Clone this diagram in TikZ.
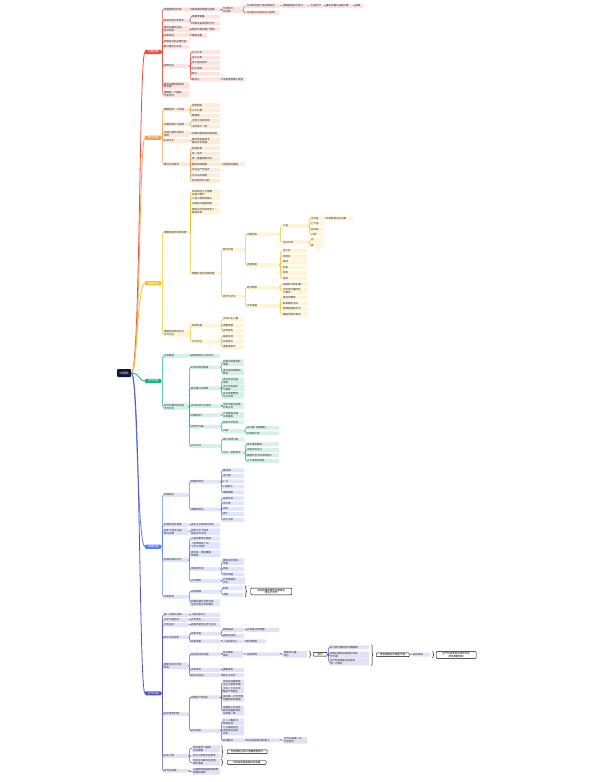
\documentclass[tikz,border=0pt]{standalone}
\usepackage{fontspec}
\newfontfamily\cjk{Noto Sans CJK SC}
\usetikzlibrary{decorations.pathreplacing}
\definecolor{rootC}{RGB}{16,22,58}
\definecolor{redD}{RGB}{240,75,65}
\definecolor{redL}{RGB}{253,226,224}
\definecolor{orD}{RGB}{246,158,78}
\definecolor{orL}{RGB}{253,235,218}
\definecolor{yeD}{RGB}{246,196,30}
\definecolor{yeL}{RGB}{255,245,214}
\definecolor{grD}{RGB}{22,180,126}
\definecolor{grL}{RGB}{214,242,231}
\definecolor{blD}{RGB}{92,125,248}
\definecolor{blL}{RGB}{222,229,253}
\definecolor{puD}{RGB}{86,82,197}
\definecolor{puL}{RGB}{226,225,246}
\newcommand\mnd[6]{\pgfmathsetmacro\tw{#5-1.6}\node[nd,#1,text width=\tw pt] (#2) at (#3,#4) {#6};}
\newcommand\mcn[3]{\foreach \ch in {#3}{\draw[#1] (#2.east) -- ++(1.2,0) |- (\ch.west);}}
\tikzset{
 nd/.style={font=\cjk\fontsize{2.5pt}{2.8pt}\selectfont, inner xsep=0.8pt, inner ysep=0.75pt, rounded corners=0.5pt, anchor=west, align=left, text=black!85},
 sec/.style={font=\cjk\fontsize{2.6pt}{3pt}\selectfont, text=white, inner xsep=0.8pt, inner ysep=0.85pt, rounded corners=0.8pt, anchor=west, text width=14.4pt, align=center},
 sm/.style={fill=white, draw=black, line width=0.45pt, align=center, rounded corners=0.8pt, text=black},
 brc/.style={decorate, decoration={brace, amplitude=1.3pt}, draw=black, line width=0.45pt},
 cl/.style={line width=0.5pt, rounded corners=1pt},
 rl/.style={line width=0.8pt},
 rF/.style={fill=redL}, rC/.style={cl, draw=redD},
 oF/.style={fill=orL}, oC/.style={cl, draw=orD},
 yF/.style={fill=yeL}, yC/.style={cl, draw=yeD},
 gF/.style={fill=grL}, gC/.style={cl, draw=grD},
 bF/.style={fill=blL}, bC/.style={cl, draw=blD},
 pF/.style={fill=puL}, pC/.style={cl, draw=puD}
}
\begin{document}
\begin{tikzpicture}[x=1pt,y=-1pt]
\fill[white] (0,0) rectangle (589,782);
\useasboundingbox (0,0) rectangle (589,782);
% root
\node[font=\cjk\fontsize{3pt}{3.4pt}\selectfont, text=white, fill=rootC, rounded corners=1pt, minimum width=14pt, minimum height=8pt, inner sep=0.5pt, anchor=west] (root) at (117,373) {中国史};
% sections
\node[sec, fill=redD] (R) at (145,52) {先秦时期};
\node[sec, fill=orD] (O) at (145,137.7) {秦汉时期};
\node[sec, fill=yeD] (Y) at (145,283.3) {隋唐时期};
\node[sec, fill=grD] (G) at (145,381) {宋元时期};
\node[sec, fill=blD] (B) at (145,546.7) {明清时期};
\node[sec, fill=puD] (P) at (145,693.3) {近代中国};
\draw[rl, draw=redD] (root.east) .. controls +(9,0) and +(-6,0) .. (R.west);
\draw[rl, draw=orD] (root.east) .. controls +(9,0) and +(-6,0) .. (O.west);
\draw[rl, draw=yeD] (root.east) .. controls +(6,0) and +(-8,0) .. (Y.west);
\draw[rl, draw=grD] (root.east) .. controls +(8,0) and +(-6,0) .. (G.west);
\draw[rl, draw=blD] (root.east) .. controls +(6,0) and +(-8,0) .. (B.west);
\draw[rl, draw=puD] (root.east) .. controls +(9,0) and +(-6,0) .. (P.west);
% ================= RED
\mnd{rF}{R1}{163}{9.3}{26}{早期国家的形成}
\mnd{rF}{R1a}{191}{9.3}{29}{夏商周的更替与发展}
\mnd{rF}{R1a1}{222}{10}{20}{分封制与\\宗法制}
\mnd{rF}{R1a1a}{246}{6}{33}{分封制巩固了周王朝统治}
\mnd{rF}{R1a1a1}{282}{6}{25}{诸侯拥有较大权力}
\mnd{rF}{R1a1a1a}{310}{6}{13}{礼崩乐坏}
\mnd{rF}{R1a1a1a1}{325}{6}{27}{春秋五霸与战国七雄}
\mnd{rF}{R1a1a1a1a}{354}{6}{9}{争霸}
\mnd{rF}{R1a1b}{246}{12.7}{33}{宗法制以血缘关系为纽带}
\mnd{rF}{R2}{163}{20.7}{26}{青铜文明与甲骨文}
\mnd{rF}{R2a}{191}{16.7}{29}{商朝青铜器}
\mnd{rF}{R2b}{191}{23.3}{29}{甲骨文是成熟的汉字}
\mnd{rF}{R3}{163}{29}{26}{春秋战国的社会\\经济变革}
\mnd{rF}{R3a}{191}{29.3}{29}{铁犁牛耕的推广使用}
\mnd{rF}{R4}{163}{35.3}{26}{百家争鸣}
\mnd{rF}{R4a}{191}{35.3}{16}{儒道法墨}
\mnd{rF}{R5}{163}{41.7}{26}{商鞅变法的主要内容}
\mnd{rF}{R6}{163}{46.7}{26}{都江堰水利工程}
\mnd{rF}{R7}{163}{66}{26}{思想文化}
\mnd{rF}{R7a}{191}{52.3}{29}{孔子仁学}
\mnd{rF}{R7b}{191}{57.7}{29}{孟子仁政}
\mnd{rF}{R7c}{191}{63}{29}{老子道法自然}
\mnd{rF}{R7d}{191}{68.3}{29}{庄子逍遥}
\mnd{rF}{R7e}{191}{73.7}{29}{荀子}
\mnd{rF}{R7f}{191}{79.3}{29}{韩非子}
\mnd{rF}{R7f1}{222}{79.3}{23}{法家思想集大成者}
\mnd{rF}{R8}{163}{85.5}{26}{春秋战国时期的民\\族交融}
\mnd{rF}{R9}{163}{94}{26}{秦国统一六国的\\历史条件}
\mcn{rC}{R}{R1,R2,R3,R4,R5,R6,R7,R8,R9}
\mcn{rC}{R1}{R1a}
\mcn{rC}{R1a}{R1a1}
\mcn{rC}{R1a1}{R1a1a,R1a1b}
\mcn{rC}{R1a1a}{R1a1a1}
\mcn{rC}{R1a1a1}{R1a1a1a}
\mcn{rC}{R1a1a1a}{R1a1a1a1}
\mcn{rC}{R1a1a1a1}{R1a1a1a1a}
\mcn{rC}{R2}{R2a,R2b}
\mcn{rC}{R3}{R3a}
\mcn{rC}{R4}{R4a}
\mcn{rC}{R7}{R7a,R7b,R7c,R7d,R7e,R7f}
\mcn{rC}{R7f}{R7f1}
% ================= ORANGE
\mnd{oF}{O1}{163}{109.7}{26}{秦朝的统一与巩固}
\mnd{oF}{O1a}{191}{105.3}{29}{皇帝制度}
\mnd{oF}{O1b}{191}{110.3}{29}{三公九卿}
\mnd{oF}{O1c}{191}{115.7}{29}{郡县制}
\mnd{oF}{O2}{163}{124.3}{26}{汉朝的建立与发展}
\mnd{oF}{O2a}{191}{121}{29}{文景之治的出现}
\mnd{oF}{O2b}{191}{126.3}{29}{汉武帝大一统}
\mnd{oF}{O3}{163}{133.7}{26}{丝绸之路的开辟与\\发展}
\mnd{oF}{O3a}{191}{133.7}{29}{张骞出使西域开辟丝路}
\mnd{oF}{O4}{163}{141}{26}{科技文化}
\mnd{oF}{O4a}{191}{141}{29}{蔡伦改进造纸术\\推动文化传播}
\mnd{oF}{O5}{163}{164.3}{26}{秦汉社会经济}
\mnd{oF}{O5a}{191}{148.3}{29}{盐铁官营}
\mnd{oF}{O5b}{191}{153.7}{29}{统一货币}
\mnd{oF}{O5c}{191}{159}{29}{统一度量衡和文字}
\mnd{oF}{O5d}{191}{164.3}{29}{重农抑商政策}
\mnd{oF}{O5d1}{222}{164.3}{23}{巩固统治基础}
\mnd{oF}{O5e}{191}{170}{29}{农业生产的进步}
\mnd{oF}{O5f}{191}{175.3}{29}{手工业的发展}
\mnd{oF}{O5g}{191}{181}{29}{商业城市的兴起}
\mcn{oC}{O}{O1,O2,O3,O4,O5}
\mcn{oC}{O1}{O1a,O1b,O1c}
\mcn{oC}{O2}{O2a,O2b}
\mcn{oC}{O3}{O3a}
\mcn{oC}{O4}{O4a}
\mcn{oC}{O5}{O5a,O5b,O5c,O5d,O5e,O5f,O5g}
\mcn{oC}{O5d}{O5d1}
% ================= YELLOW
\mnd{yF}{Y1}{163}{232.3}{26}{隋唐制度的创新发展}
\mnd{yF}{Y1a}{191}{192.7}{29}{科举制创立于隋朝\\完善于唐代}
\mnd{yF}{Y1b}{191}{198.3}{29}{三省六部制的确立}
\mnd{yF}{Y1c}{191}{204}{29}{均田制与租庸调制}
\mnd{yF}{Y1d}{191}{211}{29}{两税法的实施改变了\\赋税标准}
\mnd{yF}{Y1e}{191}{273.3}{29}{唐朝社会的全面发展}
\mnd{yF}{Y1e1}{222}{249.7}{22}{政治方面}
\mnd{yF}{Y1e1a}{246}{234.3}{33}{中枢机构}
\mnd{yF}{Y1e1a1}{282}{226}{26}{三省}
\mnd{yF}{Y1e1a1a}{310}{218.3}{13}{中书省}
\mnd{yF}{Y1e1a1a1}{325}{218.3}{28}{负责起草诏令决策}
\mnd{yF}{Y1e1a1b}{310}{223.7}{13}{门下省}
\mnd{yF}{Y1e1a1c}{310}{229.3}{13}{尚书省}
\mnd{yF}{Y1e1a1d}{310}{234.3}{13}{六部}
\mnd{yF}{Y1e1a2}{282}{242.3}{26}{地方行政}
\mnd{yF}{Y1e1a2a}{310}{240}{13}{州}
\mnd{yF}{Y1e1a2b}{310}{245.7}{13}{县}
\mnd{yF}{Y1e1b}{246}{265}{33}{选官制度}
\mnd{yF}{Y1e1b1}{282}{251}{25}{进士科}
\mnd{yF}{Y1e1b2}{282}{256.7}{25}{明经科}
\mnd{yF}{Y1e1b3}{282}{262}{25}{殿试}
\mnd{yF}{Y1e1b4}{282}{267.3}{25}{武举}
\mnd{yF}{Y1e1b5}{282}{273}{25}{制举}
\mnd{yF}{Y1e1b6}{282}{278.7}{25}{常科}
\mnd{yF}{Y1e2}{222}{296.3}{22}{经济与文化}
\mnd{yF}{Y1e2a}{246}{287.7}{33}{经济繁荣}
\mnd{yF}{Y1e2a1}{282}{284.3}{26}{曲辕犁与筒车推广}
\mnd{yF}{Y1e2a2}{282}{291}{26}{长安成为国际性\\大都市}
\mnd{yF}{Y1e2b}{246}{306}{33}{文化昌盛}
\mnd{yF}{Y1e2b1}{282}{297.7}{26}{唐诗的繁荣}
\mnd{yF}{Y1e2b2}{282}{303.3}{26}{颜真卿的书法}
\mnd{yF}{Y1e2b3}{282}{308.7}{26}{敦煌莫高窟艺术}
\mnd{yF}{Y1e2b4}{282}{314.3}{26}{雕版印刷术发明}
\mnd{yF}{Y2}{163}{333.3}{26}{隋唐的民族关系与\\对外交往}
\mnd{yF}{Y2a}{191}{325.7}{29}{民族交融}
\mnd{yF}{Y2a1}{222}{319}{22}{文成公主入藏}
\mnd{yF}{Y2a2}{222}{325.7}{22}{唐蕃会盟}
\mnd{yF}{Y2a3}{222}{331}{22}{册封回纥}
\mnd{yF}{Y2b}{191}{341.7}{29}{对外交往}
\mnd{yF}{Y2b1}{222}{336.3}{22}{鉴真东渡}
\mnd{yF}{Y2b2}{222}{341.7}{22}{玄奘西行}
\mnd{yF}{Y2b3}{222}{347}{22}{遣唐使来华}
\mcn{yC}{Y}{Y1,Y2}
\mcn{yC}{Y1}{Y1a,Y1b,Y1c,Y1d,Y1e}
\mcn{yC}{Y1e}{Y1e1,Y1e2}
\mcn{yC}{Y1e1}{Y1e1a,Y1e1b}
\mcn{yC}{Y1e1a}{Y1e1a1,Y1e1a2}
\mcn{yC}{Y1e1a1}{Y1e1a1a,Y1e1a1b,Y1e1a1c,Y1e1a1d}
\mcn{yC}{Y1e1a1a}{Y1e1a1a1}
\mcn{yC}{Y1e1a2}{Y1e1a2a,Y1e1a2b}
\mcn{yC}{Y1e1b}{Y1e1b1,Y1e1b2,Y1e1b3,Y1e1b4,Y1e1b5,Y1e1b6}
\mcn{yC}{Y1e2}{Y1e2a,Y1e2b}
\mcn{yC}{Y1e2a}{Y1e2a1,Y1e2a2}
\mcn{yC}{Y1e2b}{Y1e2b1,Y1e2b2,Y1e2b3,Y1e2b4}
\mcn{yC}{Y2}{Y2a,Y2b}
\mcn{yC}{Y2a}{Y2a1,Y2a2,Y2a3}
\mcn{yC}{Y2b}{Y2b1,Y2b2,Y2b3}
% ================= GREEN
\mnd{gF}{G1}{163}{356}{25}{辽宋夏金}
\mnd{gF}{G1a}{190}{356}{30}{民族政权并立的时代}
\mnd{gF}{G2}{163}{406.7}{25}{宋元时期的政治经\\济与文化}
\mnd{gF}{G2a}{190}{367.3}{30}{北宋的政治制度}
\mnd{gF}{G2a1}{222}{362.7}{22}{加强中央集权的\\措施}
\mnd{gF}{G2a2}{222}{372}{22}{重文轻武政策的\\影响}
\mnd{gF}{G2b}{190}{388.3}{30}{经济重心的南移}
\mnd{gF}{G2b1}{222}{380.7}{22}{南方农业迅速\\发展}
\mnd{gF}{G2b2}{222}{387.7}{22}{手工业的进步\\与繁荣}
\mnd{gF}{G2b3}{222}{395.3}{22}{商业贸易繁荣\\交子出现}
\mnd{gF}{G2c}{190}{406}{30}{宋代科技文化成就}
\mnd{gF}{G2c1}{222}{405.7}{22}{活字印刷术指南\\针和火药}
\mnd{gF}{G2d}{190}{415.3}{30}{元朝的统一}
\mnd{gF}{G2d1}{222}{415.3}{22}{行省制度加强\\中央集权}
\mnd{gF}{G2e}{190}{426.7}{30}{宋词与元曲}
\mnd{gF}{G2e1}{222}{422.3}{22}{苏轼与辛弃疾}
\mnd{gF}{G2e2}{222}{431}{22}{元曲}
\mnd{gF}{G2e2a}{246}{427.7}{33}{关汉卿《窦娥冤》}
\mnd{gF}{G2e2b}{246}{433.3}{33}{元曲四大家}
\mnd{gF}{G2f}{190}{446}{30}{对外交流}
\mnd{gF}{G2f1}{222}{439.3}{22}{海上丝绸之路}
\mnd{gF}{G2f2}{222}{452.7}{22}{马可·波罗来华}
\mnd{gF}{G2f2a}{246}{444.3}{33}{泉州港的繁荣}
\mnd{gF}{G2f2b}{246}{450}{33}{市舶司的设立}
\mnd{gF}{G2f2c}{246}{455.3}{33}{指南针用于航海的意义}
\mnd{gF}{G2f2d}{246}{461}{33}{三大发明的西传}
\mcn{gC}{G}{G1,G2}
\mcn{gC}{G1}{G1a}
\mcn{gC}{G2}{G2a,G2b,G2c,G2d,G2e,G2f}
\mcn{gC}{G2a}{G2a1,G2a2}
\mcn{gC}{G2b}{G2b1,G2b2,G2b3}
\mcn{gC}{G2c}{G2c1}
\mcn{gC}{G2d}{G2d1}
\mcn{gC}{G2e}{G2e1,G2e2}
\mcn{gC}{G2e2}{G2e2a,G2e2b}
\mcn{gC}{G2f}{G2f1,G2f2}
\mcn{gC}{G2f2}{G2f2a,G2f2b,G2f2c,G2f2d}
% ================= BLUE
\mnd{bF}{B1}{163}{495}{25}{明清统治}
\mnd{bF}{B1a}{190}{481.7}{30}{明朝的统治}
\mnd{bF}{B1a1}{222}{470.3}{22}{废丞相}
\mnd{bF}{B1a2}{222}{476}{22}{设内阁}
\mnd{bF}{B1a3}{222}{481.3}{22}{厂卫}
\mnd{bF}{B1a4}{222}{486.7}{22}{八股取士}
\mnd{bF}{B1a5}{222}{492.3}{22}{海禁政策}
\mnd{bF}{B1b}{190}{509.3}{30}{清朝的统治}
\mnd{bF}{B1b1}{222}{498.3}{22}{设军机处}
\mnd{bF}{B1b2}{222}{503.3}{22}{文字狱}
\mnd{bF}{B1b3}{222}{508.7}{22}{闭关}
\mnd{bF}{B1b4}{222}{514}{22}{摊丁}
\mnd{bF}{B1b5}{222}{520}{22}{改土归流}
\mnd{bF}{B2}{163}{525}{25}{明清的经济发展}
\mnd{bF}{B2a}{190}{525}{30}{资本主义萌芽的出现}
\mnd{bF}{B3}{163}{531.7}{25}{郑和下西洋与戚\\继光抗倭}
\mnd{bF}{B3a}{190}{531.7}{30}{郑和七次下西洋\\促进中外交流}
\mnd{bF}{B4}{163}{560}{25}{明清时期的文化}
\mnd{bF}{B4a}{190}{538.7}{30}{小说的繁荣与发展}
\mnd{bF}{B4b}{190}{545.3}{30}{《本草纲目》和\\《天工开物》}
\mnd{bF}{B4c}{190}{553.7}{30}{顾炎武、黄宗羲等\\思想家}
\mnd{bF}{B4d}{190}{569}{30}{京剧的形成}
\mnd{bF}{B4d1}{222}{561.7}{22}{徽班进京形成\\京剧}
\mnd{bF}{B4d2}{222}{569}{22}{昆曲}
\mnd{bF}{B4d3}{222}{574.3}{22}{地方戏曲}
\mnd{bF}{B4e}{190}{581}{30}{古代建筑}
\mnd{bF}{B4e1}{222}{580.7}{23}{北京故宫和\\天坛}
\mnd{bF}{B5}{163}{596.7}{25}{历史影响}
\mnd{bF}{B5a}{190}{591.7}{30}{闭关锁国}
\mnd{bF}{B5a1}{222}{588.3}{21}{积极}
\mnd{bF}{B5a2}{222}{594.7}{21}{消极}
\mnd{bF}{B5b}{190}{602.7}{30}{明朝后期社会经济发\\生变化君主专制强化}
\draw[brc] (245.3,586.2) -- (245.3,596.8);
\mnd{sm}{BS}{250.5}{591.5}{41}{闭关锁国政策使中国逐渐\\落后于世界}
\mcn{bC}{B}{B1,B2,B3,B4,B5}
\mcn{bC}{B1}{B1a,B1b}
\mcn{bC}{B1a}{B1a1,B1a2,B1a3,B1a4,B1a5}
\mcn{bC}{B1b}{B1b1,B1b2,B1b3,B1b4,B1b5}
\mcn{bC}{B2}{B2a}
\mcn{bC}{B3}{B3a}
\mcn{bC}{B4}{B4a,B4b,B4c,B4d,B4e}
\mcn{bC}{B4d}{B4d1,B4d2,B4d3}
\mcn{bC}{B4e}{B4e1}
\mcn{bC}{B5}{B5a,B5b}
\mcn{bC}{B5a}{B5a1,B5a2}
% ================= PURPLE
\mnd{pF}{P1}{163}{615}{25}{第一次鸦片战争}
\mnd{pF}{P1a}{190}{615}{30}{《南京条约》}
\mnd{pF}{P2}{163}{620}{25}{太平天国运动}
\mnd{pF}{P2a}{190}{620}{30}{天京变乱}
\mnd{pF}{P3}{163}{625}{25}{洋务运动}
\mnd{pF}{P3a}{190}{625}{30}{自强求富创办近代企业}
\mnd{pF}{P4}{163}{637.3}{25}{甲午中日战争}
\mnd{pF}{P4a}{190}{633.7}{30}{战争过程}
\mnd{pF}{P4a1}{222}{630}{22}{黄海海战}
\mnd{pF}{P4a1a}{246}{630}{33}{邓世昌壮烈殉国}
\mnd{pF}{P4a2}{222}{636}{22}{威海卫战役}
\mnd{pF}{P4b}{190}{641.3}{30}{战争结果}
\mnd{pF}{P4b1}{222}{641.3}{22}{《马关条约》}
\mnd{pF}{P4b1a}{246}{641.3}{20}{割地赔款}
\mnd{pF}{P5}{163}{665.7}{25}{维新变法与辛亥\\革命}
\mnd{pF}{P5a}{190}{654.3}{30}{戊戌变法的过程}
\mnd{pF}{P5a1}{222}{654.3}{21}{百日维新\\失败}
\mnd{pF}{P5a1a}{246}{654.3}{33}{失败原因}
\mnd{pF}{P5a1a1}{283}{654.3}{24}{维新派力量\\弱小}
\draw[brc] (309.5,651) -- (309.5,657.6);
\mnd{sm}{S1}{313}{654.3}{14}{启示}
\mnd{pF}{S1a}{329}{647.3}{40}{学习西方要结合中国国情}
\mnd{pF}{S1b}{329}{655}{40}{依靠封建统治者推行改良\\行不通}
\mnd{pF}{S1c}{329}{662}{40}{资产阶级维新派未能发\\动广大群众}
\draw[brc] (371.5,644.6) -- (371.5,665.6);
\mnd{sm}{S2}{376}{654.7}{33}{改良道路在中国走不通}
\mnd{pF}{S2a}{412}{654.7}{18}{转向革命}
\draw[brc] (432.5,651.4) -- (432.5,658);
\mnd{sm}{S3}{436}{655}{40}{资产阶级革命派领导辛亥\\革命推翻帝制}
\mnd{pF}{P5b}{190}{670}{30}{辛亥革命}
\mnd{pF}{P5b1}{222}{670}{22}{推翻帝制}
\mnd{pF}{P5c}{190}{675.3}{30}{新文化运动}
\mnd{pF}{P5c1}{222}{675.3}{22}{民主与科学}
\mnd{pF}{P6}{163}{714}{25}{民主革命时期}
\mnd{pF}{P6a}{190}{697.3}{30}{中国共产党成立}
\mnd{pF}{P6a1}{222}{683}{22}{五四运动是新民\\主主义革命开端}
\mnd{pF}{P6a2}{222}{690.3}{22}{中共一大召开中\\国共产党诞生}
\mnd{pF}{P6a3}{222}{698.2}{22}{国共第一次合作推\\动国民革命高潮}
\mnd{pF}{P6a4}{222}{710.7}{22}{南昌起义打响武\\装反抗国民党反\\动派第一枪}
\mnd{pF}{P6b}{190}{730.7}{30}{抗日战争}
\mnd{pF}{P6b1}{222}{721.7}{22}{九一八事变与\\局部抗战}
\mnd{pF}{P6b2}{222}{730.7}{22}{七七事变标志\\全民族抗战的\\开始}
\mnd{pF}{P6b3}{222}{740.3}{22}{抗战胜利}
\mnd{pF}{P6b3a}{246}{740.3}{33}{抗日战争胜利的意义}
\mnd{pF}{P6b3a1}{283}{740.3}{24}{近代以来第一次\\完全胜利}
\mnd{pF}{P7}{163}{756}{25}{历史人物}
\mnd{pF}{P7a}{192}{748.7}{28}{林则徐虎门销烟\\抗击侵略}
\mnd{pF}{P7b}{192}{756}{28}{孙中山领导辛亥革命}
\mnd{pF}{P7c}{192}{762.3}{28}{毛泽东开辟农村包围\\城市道路}
\draw[brc] (221.5,745.6) -- (221.5,758);
\mnd{sm}{SA}{227}{751.8}{40}{为民族独立和人民解放而奋斗}
\draw[brc] (221.5,759.2) -- (221.5,765.5);
\mnd{sm}{SB}{227}{762.4}{39}{不断探索救国救民的道路}
\mnd{pF}{P8}{163}{770.7}{25}{近代化探索}
\mnd{pF}{P8a}{192}{771.3}{28}{从器物到制度再到思想\\层面的探索}
\mcn{pC}{P}{P1,P2,P3,P4,P5,P6,P7,P8}
\mcn{pC}{P1}{P1a}
\mcn{pC}{P2}{P2a}
\mcn{pC}{P3}{P3a}
\mcn{pC}{P4}{P4a,P4b}
\mcn{pC}{P4a}{P4a1,P4a2}
\mcn{pC}{P4a1}{P4a1a}
\mcn{pC}{P4b}{P4b1}
\mcn{pC}{P4b1}{P4b1a}
\mcn{pC}{P5}{P5a,P5b,P5c}
\mcn{pC}{P5a}{P5a1}
\mcn{pC}{P5a1}{P5a1a}
\mcn{pC}{P5a1a}{P5a1a1}
\mcn{pC}{S1}{S1a,S1b,S1c}
\mcn{pC}{S2}{S2a}
\mcn{pC}{P5b}{P5b1}
\mcn{pC}{P5c}{P5c1}
\mcn{pC}{P6}{P6a,P6b}
\mcn{pC}{P6a}{P6a1,P6a2,P6a3,P6a4}
\mcn{pC}{P6b}{P6b1,P6b2,P6b3}
\mcn{pC}{P6b3}{P6b3a}
\mcn{pC}{P6b3a}{P6b3a1}
\mcn{pC}{P7}{P7a,P7b,P7c}
\mcn{pC}{P8}{P8a}
\end{tikzpicture}
\end{document}
